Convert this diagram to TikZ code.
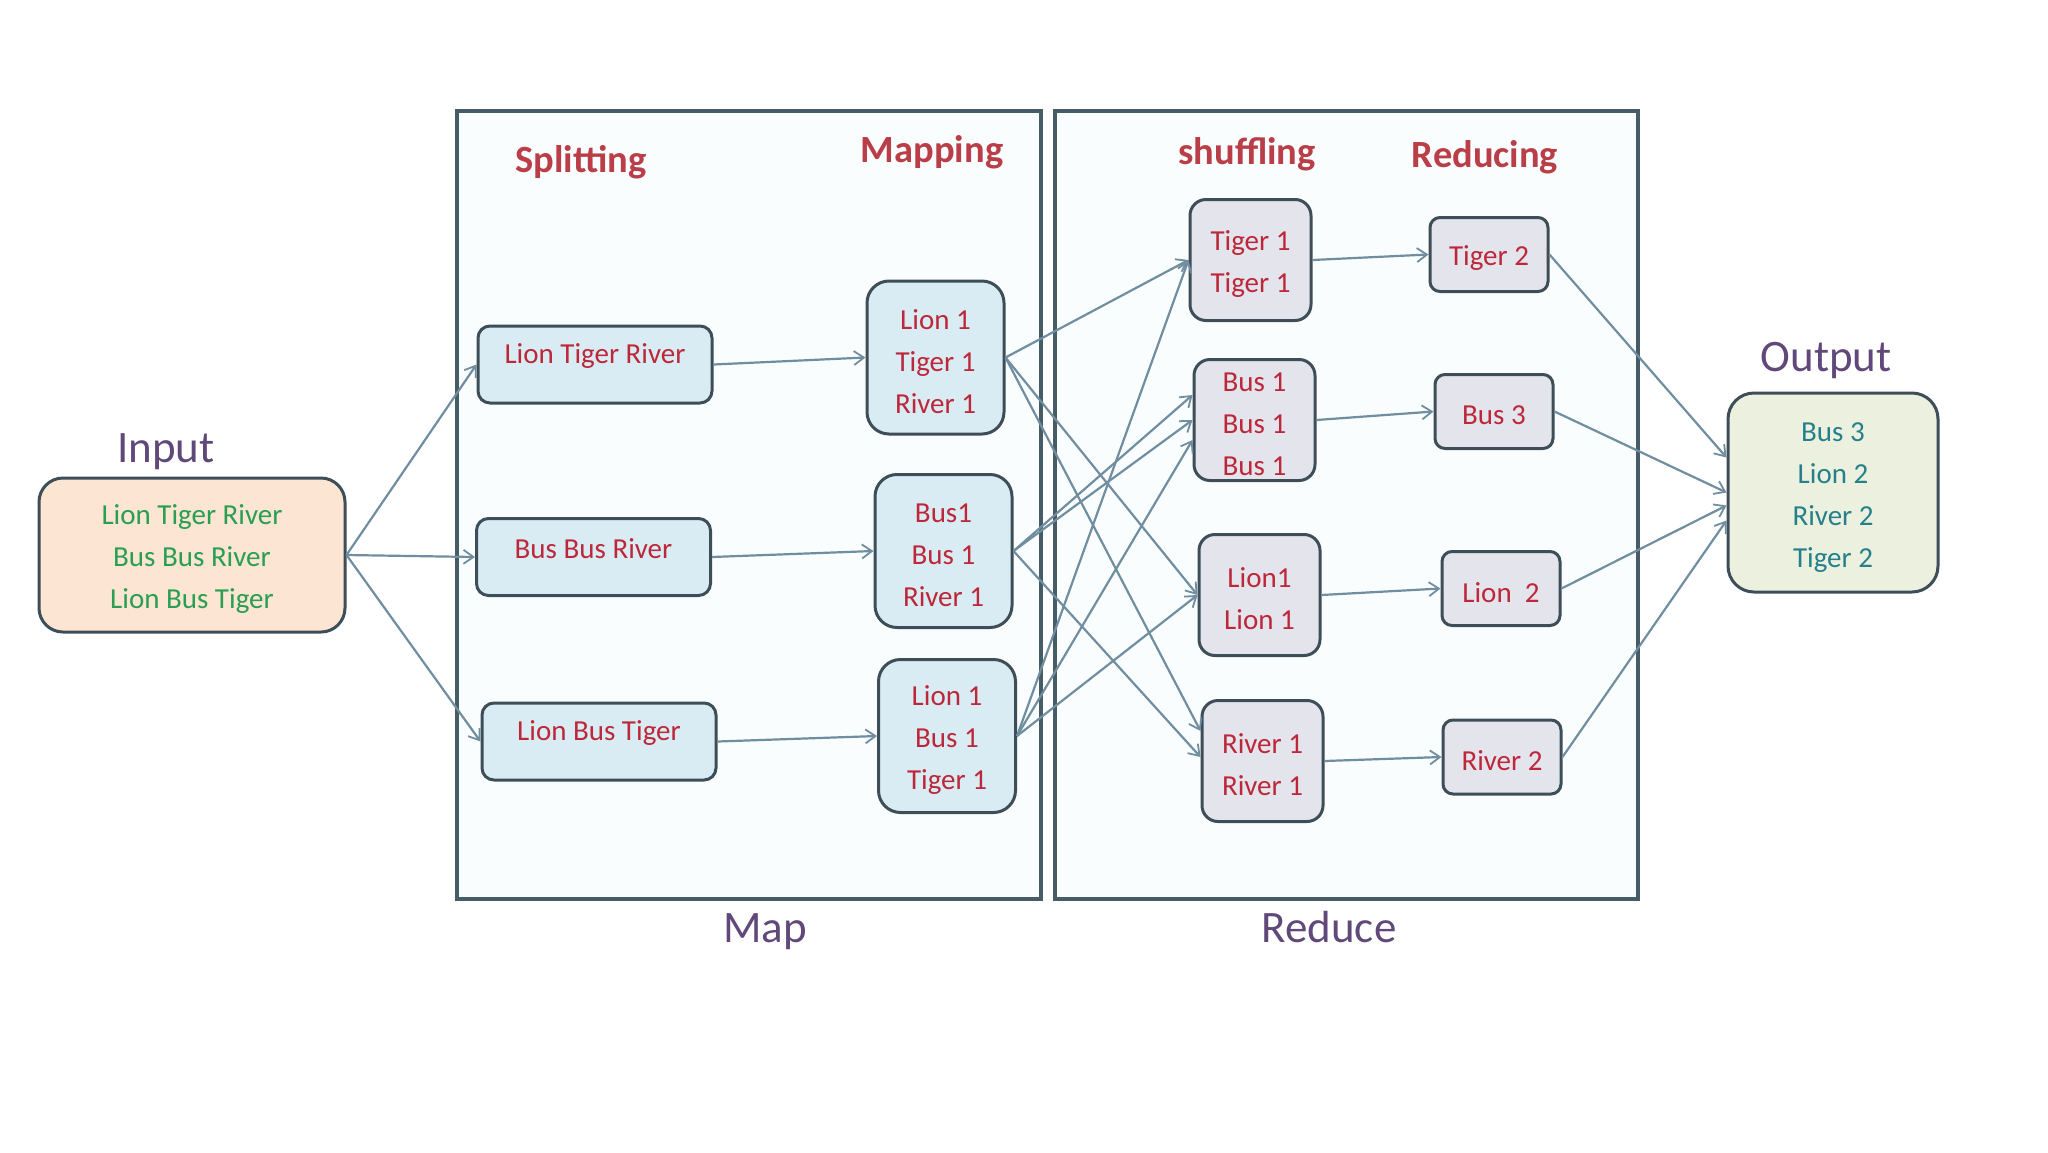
\documentclass[tikz,border=0pt]{standalone}
\usepackage{fontspec}
\setmainfont{Carlito}
\usetikzlibrary{arrows.meta}
\definecolor{bordc}{RGB}{62,78,88}
\definecolor{framec}{RGB}{70,92,102}
\definecolor{framefill}{RGB}{250,253,254}
\definecolor{lblc}{RGB}{96,73,122}
\definecolor{headc}{RGB}{186,62,72}
\definecolor{redtxt}{RGB}{188,40,58}
\definecolor{greentxt}{RGB}{42,158,82}
\definecolor{tealtxt}{RGB}{38,128,140}
\definecolor{connc}{RGB}{112,142,160}
\definecolor{bluefill}{RGB}{218,236,243}
\definecolor{lavfill}{RGB}{228,228,237}
\definecolor{peachfill}{RGB}{252,229,210}
\definecolor{greenfill}{RGB}{235,241,222}
\tikzset{
  frame/.style={draw=framec, line width=3.5pt, fill=framefill, inner sep=0pt},
  biglabel/.style={text=lblc, font=\fontsize{45}{54}\selectfont, inner sep=0pt},
  heading/.style={text=headc, font=\fontsize{38.5}{46}\selectfont\bfseries, inner sep=0pt, anchor=base},
  txt/.style={font=\fontsize{29}{42}\selectfont, align=center},
  splitbox/.style={draw=bordc, line width=3pt, fill=bluefill, rounded corners=12pt, inner sep=0pt,
    minimum width=234pt, minimum height=77pt},
  mapbox/.style={draw=bordc, line width=3pt, fill=bluefill, rounded corners=22pt, inner sep=0pt,
    minimum width=137pt, minimum height=153pt},
  shufbox/.style={draw=bordc, line width=3pt, fill=lavfill, rounded corners=16pt, inner sep=0pt,
    minimum width=121pt, minimum height=121pt},
  redbox/.style={draw=bordc, line width=3pt, fill=lavfill, rounded corners=10pt, inner sep=0pt,
    minimum width=118pt, minimum height=74pt},
  inbox/.style={draw=bordc, line width=3pt, fill=peachfill, rounded corners=24pt, inner sep=0pt,
    minimum width=306pt, minimum height=154pt},
  outbox/.style={draw=bordc, line width=3pt, fill=greenfill, rounded corners=26pt, inner sep=0pt,
    minimum width=210pt, minimum height=199pt},
  redlbl/.style={txt, text=redtxt, inner sep=0pt, yshift=-4pt},
  splittext/.style={txt, text=redtxt, anchor=base, inner sep=0pt, yshift=8pt},
  greenlbl/.style={txt, text=greentxt, inner sep=0pt, yshift=-4pt},
  teallbl/.style={txt, text=tealtxt, inner sep=0pt, yshift=-5pt},
  conn/.style={draw=connc, line width=2.2pt, -{Straight Barb[length=10pt,width=14pt,line width=1.8pt]}}
}
\begin{document}
\begin{tikzpicture}[x=1pt,y=-1pt]
\useasboundingbox[fill=white] (0,0) rectangle (2048,1152);

% frames
\node[frame, minimum width=584pt, minimum height=788pt] (mapf) at (749,505) {};
\node[frame, minimum width=583pt, minimum height=788pt] (redf) at (1346.5,505) {};

% labels
\node[biglabel] (inl) at (166,452) {Input};
\node[biglabel] (outl) at (1826,361) {Output};
\node[biglabel] (mapl) at (765,932) {Map};
\node[biglabel] (redl) at (1329,927) {Reduce};

% headings
\node[heading] (hsplit) at (581,172) {Splitting};
\node[heading] (hmap) at (932,162) {Mapping};
\node[heading] (hshuf) at (1247,164) {shuffling};
\node[heading] (hred) at (1485,167) {Reducing};

% input / output
\node[inbox, label={[greenlbl]center:Lion Tiger River\\Bus Bus River\\Lion Bus Tiger}] (in) at (192,555) {};
\node[outbox, label={[teallbl]center:Bus 3\\Lion 2\\River 2\\Tiger 2}] (out) at (1833,492.5) {};

% splitting
\node[splitbox, label={[splittext]center:Lion Tiger River}] (s1) at (595,364.5) {};
\node[splitbox, label={[splittext]center:Bus Bus River}] (s2) at (593.5,557) {};
\node[splitbox, label={[splittext]center:Lion Bus Tiger}] (s3) at (599,741.5) {};

% mapping
\node[mapbox, label={[redlbl]center:Lion 1\\Tiger 1\\River 1}] (m1) at (935.5,357.5) {};
\node[mapbox, label={[redlbl]center:Bus1\\Bus 1\\River 1}] (m2) at (943.5,551) {};
\node[mapbox, label={[redlbl]center:Lion 1\\Bus 1\\Tiger 1}] (m3) at (947,736) {};

% shuffling
\node[shufbox, label={[redlbl]center:Tiger 1\\Tiger 1}] (sh1) at (1250.5,260) {};
\node[shufbox, label={[redlbl]center:Bus 1\\Bus 1\\Bus 1}] (sh2) at (1254.5,420) {};
\node[shufbox, label={[redlbl]center:Lion1\\Lion 1}] (sh3) at (1259.5,595) {};
\node[shufbox, label={[redlbl]center:River 1\\River 1}] (sh4) at (1262.5,761) {};

% reducing
\node[redbox, label={[redlbl]center:Tiger 2}] (r1) at (1489,254.5) {};
\node[redbox, label={[redlbl]center:Bus 3}] (r2) at (1494,411.5) {};
\node[redbox, label={[redlbl]center:Lion~~2}] (r3) at (1501,588.5) {};
\node[redbox, label={[redlbl]center:River 2}] (r4) at (1502,757) {};

% connectors: input -> splitting
\draw[conn] (in.east) -- (s1.west);
\draw[conn] (in.east) -- (s2.west);
\draw[conn] (in.east) -- (s3.west);

% splitting -> mapping
\draw[conn] (s1.east) -- (m1.west);
\draw[conn] (s2.east) -- (m2.west);
\draw[conn] (s3.east) -- (m3.west);

% mapping -> shuffling
\draw[conn] (m1.east) -- (sh1.west);
\draw[conn] (m1.east) -- (sh3.west);
\draw[conn] (m1.east) -- ([yshift=30pt]sh4.west);
\draw[conn] (m2.east) -- ([yshift=25pt]sh2.west);
\draw[conn] (m2.east) -- (sh2.west);
\draw[conn] (m2.east) -- ([yshift=4pt]sh4.west);
\draw[conn] (m3.east) -- (sh1.west);
\draw[conn] (m3.east) -- ([yshift=-20pt]sh2.west);
\draw[conn] (m3.east) -- (sh3.west);

% shuffling -> reducing
\draw[conn] (sh1.east) -- (r1.west);
\draw[conn] (sh2.east) -- (r2.west);
\draw[conn] (sh3.east) -- (r3.west);
\draw[conn] (sh4.east) -- (r4.west);

% reducing -> output
\draw[conn] (r1.east) -- ([yshift=35pt]out.west);
\draw[conn] (r2.east) -- (out.west);
\draw[conn] (r3.east) -- ([yshift=-13pt]out.west);
\draw[conn] (r4.east) -- ([yshift=-28pt]out.west);
\end{tikzpicture}
\end{document}
